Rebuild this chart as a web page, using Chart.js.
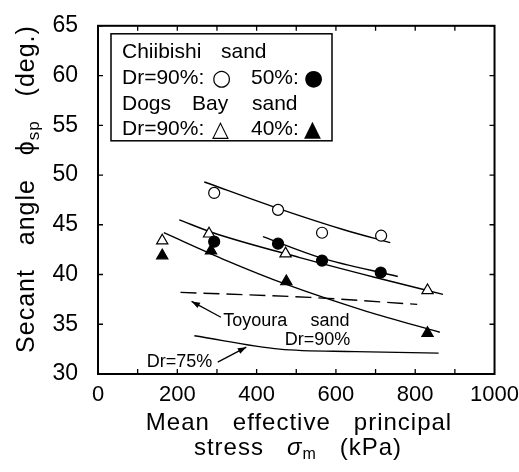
<!DOCTYPE html>
<html>
<head>
<meta charset="utf-8">
<script src="https://cdn.jsdelivr.net/npm/chart.js@4.4.1/dist/chart.umd.min.js"></script>
<style>
  html, body { margin: 0; padding: 0; background: #fff; }
</style>
</head>
<body>
<canvas id="chart-secant" width="519" height="472"></canvas>
<script>
// x: mean effective principal stress (kPa), y: secant angle (deg.)
const chiibishi90X = [293, 454, 565, 714];
const chiibishi90Y = [48.2, 46.5, 44.2, 43.9];
const chiibishi50X = [293, 454, 565, 713];
const chiibishi50Y = [43.3, 43.1, 41.4, 40.2];
const dogsBay90X = [162, 280, 473, 831];
const dogsBay90Y = [43.4, 44.1, 42.1, 38.4];
const dogsBay40X = [162, 285, 475, 831];
const dogsBay40Y = [41.9, 42.4, 39.3, 34.1];

// fitted curves
const fitChiibishi90X = [268, 450, 620, 737];
const fitChiibishi90Y = [49.3, 46.7, 44.5, 43.2];
const fitChiibishi50X = [416, 560, 756];
const fitChiibishi50Y = [43.8, 41.7, 39.8];
const fitDogsBay90X = [205, 290, 509, 700, 870];
const fitDogsBay90Y = [45.5, 44.2, 41.7, 39.7, 38.0];
const fitDogsBay40X = [166, 324, 475, 677, 862];
const fitDogsBay40Y = [44.2, 41.4, 39.0, 36.3, 34.2];
const toyoura90X = [208, 534, 805];
const toyoura90Y = [38.2, 37.7, 37.0];
const toyoura75X = [243, 458, 650, 859];
const toyoura75Y = [33.85, 32.5, 32.25, 32.1];

const xTickLabels = [0, 200, 400, 600, 800, 1000];
const yTickLabels = [30, 35, 40, 45, 50, 55, 60, 65];
const xMinorTicks = [100, 200, 300, 400, 500, 600, 700, 800, 900];

// annotation texts, anchored in data units
const notes = [
  { text: 'Toyoura', x: 316, y: 35.3 },
  { text: 'sand', x: 536, y: 35.3 },
  { text: 'Dr=90%', x: 471, y: 33.4 },
  { text: 'Dr=75%', x: 123, y: 31.2 },
];
const arrows = [
  { from: [310, 35.7], to: [236, 37.3] },
  { from: [302, 31.2], to: [374, 32.7] },
];

const FONT = "'Liberation Sans', Arial, 'DejaVu Sans', sans-serif";
const SYMBOL_FONT = "'DejaVu Sans', sans-serif";
const toPts = (xs, ys) => xs.map((x, i) => ({ x, y: ys[i] }));

const fitLine = (xs, ys, dash) => ({
  type: 'line',
  data: toPts(xs, ys),
  borderColor: '#000',
  borderWidth: 1.4,
  borderDash: dash || [],
  pointRadius: 0,
  cubicInterpolationMode: 'monotone',
  fill: false,
  order: 2,
});

const markers = (xs, ys, style, filled, r) => ({
  type: 'scatter',
  data: toPts(xs, ys),
  pointStyle: style,
  pointRadius: r,
  backgroundColor: filled ? '#000' : '#fff',
  borderColor: '#000',
  borderWidth: 1.2,
  order: 1,
});

// draws text pieces (normal / subscript / italic) in a row
const pieceFont = (p, size) => `${p.italic ? 'italic ' : ''}${p.sub ? Math.round(size * 0.68) : size}px ${FONT}`;

const drawRich = (ctx, parts, cx, cy, size) => {
  const total = parts.reduce((w, p) => {
    ctx.font = pieceFont(p, size);
    return w + ctx.measureText(p.t).width;
  }, 0);
  let x = cx - total / 2;
  parts.forEach((p) => {
    ctx.font = pieceFont(p, size);
    ctx.fillText(p.t, x, cy + (p.sub ? size * 0.28 : 0));
    x += ctx.measureText(p.t).width;
  });
};

const decorations = {
  id: 'decorations',
  afterDraw(chart) {
    const { ctx, chartArea: a, scales: { x, y } } = chart;
    ctx.save();
    ctx.strokeStyle = '#000';
    ctx.fillStyle = '#000';

    // frame and inward ticks
    ctx.lineWidth = 2;
    ctx.strokeRect(a.left, a.top, a.right - a.left, a.bottom - a.top);
    ctx.lineWidth = 1.3;
    ctx.beginPath();
    xMinorTicks.forEach((v) => {
      const px = x.getPixelForValue(v);
      ctx.moveTo(px, a.bottom); ctx.lineTo(px, a.bottom - 5);
      ctx.moveTo(px, a.top); ctx.lineTo(px, a.top + 5);
    });
    yTickLabels.forEach((v) => {
      const py = y.getPixelForValue(v);
      ctx.moveTo(a.left, py); ctx.lineTo(a.left + 5, py);
      ctx.moveTo(a.right, py); ctx.lineTo(a.right - 5, py);
    });
    ctx.stroke();

    // legend box
    const lx = a.left + 13;
    const ly = a.top + 8;
    ctx.lineWidth = 1.5;
    ctx.strokeRect(lx, ly, 221, 107);
    ctx.textBaseline = 'middle';
    ctx.textAlign = 'left';
    const rows = [
      [['Chiibishi', 11], ['sand', 110]],
      [['Dr=90%:', 11], ['○', 101, true], ['50%:', 140], ['●', 193, true]],
      [['Dogs', 11], ['Bay', 81], ['sand', 141]],
      [['Dr=90%:', 11], ['△', 101, true], ['40%:', 140], ['▲', 193, true]],
    ];
    const rowY = [18, 44, 70, 95];
    rows.forEach((row, i) => {
      row.forEach(([t, dx, sym]) => {
        ctx.font = sym ? `22px ${SYMBOL_FONT}` : `21px ${FONT}`;
        ctx.fillText(t, lx + dx, ly + rowY[i] + (sym ? 1 : 0));
      });
    });

    // annotations
    ctx.font = `18px ${FONT}`;
    notes.forEach((n) => ctx.fillText(n.text, x.getPixelForValue(n.x), y.getPixelForValue(n.y)));
    ctx.lineWidth = 1.3;
    arrows.forEach((ar) => {
      const x0 = x.getPixelForValue(ar.from[0]);
      const y0 = y.getPixelForValue(ar.from[1]);
      const x1 = x.getPixelForValue(ar.to[0]);
      const y1 = y.getPixelForValue(ar.to[1]);
      const ang = Math.atan2(y1 - y0, x1 - x0);
      ctx.beginPath();
      ctx.moveTo(x0, y0); ctx.lineTo(x1, y1);
      ctx.stroke();
      ctx.beginPath();
      ctx.moveTo(x1, y1);
      ctx.lineTo(x1 - 9 * Math.cos(ang - 0.35), y1 - 9 * Math.sin(ang - 0.35));
      ctx.lineTo(x1 - 9 * Math.cos(ang + 0.35), y1 - 9 * Math.sin(ang + 0.35));
      ctx.closePath();
      ctx.fill();
    });

    // axis titles
    ctx.textBaseline = 'middle';
    ctx.letterSpacing = '1px';
    drawRich(ctx, [{ t: 'Mean   effective   principal' }], 299, a.bottom + 49, 24);
    drawRich(ctx, [{ t: 'stress   ' }, { t: 'σ', italic: true }, { t: 'm', sub: true }, { t: '   (kPa)' }], 298, a.bottom + 74, 24);
    ctx.translate(27, 189);
    ctx.rotate(-Math.PI / 2);
    drawRich(ctx, [{ t: 'Secant   angle   ϕ' }, { t: 'sp', sub: true }, { t: '   (deg.)' }], 0, 0, 25);
    ctx.restore();
  },
};

const ctx = document.getElementById('chart-secant').getContext('2d');
new Chart(ctx, {
  type: 'scatter',
  data: {
    datasets: [
      fitLine(fitChiibishi90X, fitChiibishi90Y),
      fitLine(fitChiibishi50X, fitChiibishi50Y),
      fitLine(fitDogsBay90X, fitDogsBay90Y),
      fitLine(fitDogsBay40X, fitDogsBay40Y),
      fitLine(toyoura90X, toyoura90Y, [16, 7]),
      fitLine(toyoura75X, toyoura75Y),
      markers(chiibishi90X, chiibishi90Y, 'circle', false, 5.5),
      markers(chiibishi50X, chiibishi50Y, 'circle', true, 5.5),
      markers(dogsBay90X, dogsBay90Y, 'triangle', false, 6.5),
      markers(dogsBay40X, dogsBay40Y, 'triangle', true, 6.5),
    ],
  },
  options: {
    responsive: false,
    animation: false,
    devicePixelRatio: 1,
    layout: { padding: { top: 16, right: 24, left: 0, bottom: 0 } },
    plugins: {
      legend: { display: false },
      tooltip: { enabled: false },
    },
    scales: {
      x: {
        type: 'linear',
        min: 0,
        max: 1000,
        afterFit: (scale) => { scale.height = 98; },
        afterBuildTicks: (scale) => { scale.ticks = xTickLabels.map((v) => ({ value: v })); },
        ticks: {
          color: '#000',
          font: { size: 22, family: FONT },
          padding: 0,
          maxRotation: 0,
          callback: (value) => String(value),
        },
        grid: { display: false },
        border: { display: false },
      },
      y: {
        min: 30,
        max: 65,
        afterFit: (scale) => { scale.width = 98; },
        afterBuildTicks: (scale) => { scale.ticks = yTickLabels.map((v) => ({ value: v })); },
        ticks: {
          color: '#000',
          font: { size: 23, family: FONT },
          padding: 12,
          callback: (value) => String(value),
        },
        grid: { display: false },
        border: { display: false },
      },
    },
  },
  plugins: [decorations],
});
</script>
</body>
</html>
